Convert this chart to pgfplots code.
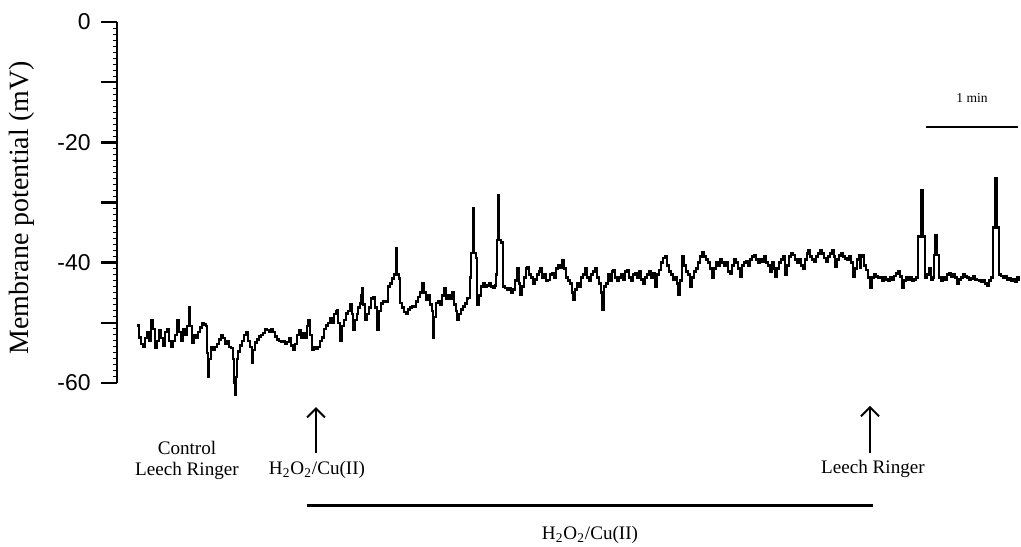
\documentclass[border=0pt]{standalone}
\usepackage{fontspec}
\setmainfont{Liberation Serif}
\newfontfamily\ticksans{Liberation Sans}
\usepackage{pgfplots}
\usepackage{pgfplotstable}
\pgfplotsset{compat=1.18}
\usetikzlibrary{arrows.meta}

% time in trace units (x), membrane potential in mV (y)
\pgfplotstableread{
t v
137 -50.4
139 -52.4
141 -53.5
143 -54.0
145 -52.5
147 -51.5
149 -53.0
151 -49.5
153 -51.0
155 -54.2
157 -53.0
159 -51.2
161 -52.5
163 -53.8
165 -51.5
167 -51.0
169 -53.0
171 -54.0
173 -53.0
175 -52.0
177 -49.5
179 -51.5
181 -53.0
183 -51.0
185 -52.0
187 -50.5
189 -47.5
190 -50.5
192 -53.3
194 -52.0
196 -52.5
198 -51.5
200 -50.8
202 -50.0
204 -50.3
206 -50.5
207 -55.0
208 -59.0
209 -56.0
211 -54.0
213 -54.5
215 -54.0
217 -53.5
219 -52.8
221 -52.0
223 -52.5
225 -53.5
227 -53.0
229 -54.0
231 -54.2
233 -56.0
234 -60.0
235 -62.0
236 -59.0
237 -56.0
238 -54.8
240 -53.8
242 -53.0
244 -52.0
246 -51.5
248 -53.0
250 -54.0
252 -56.7
253 -54.5
255 -53.3
257 -52.8
259 -52.3
261 -52.0
263 -51.7
265 -51.0
267 -51.2
269 -51.5
271 -51.0
273 -51.5
275 -52.3
277 -52.8
279 -53.0
281 -53.2
283 -53.0
285 -53.5
287 -53.2
289 -52.5
291 -53.8
293 -54.5
295 -53.5
297 -52.0
299 -51.2
301 -52.5
303 -51.8
305 -52.5
307 -50.5
308 -49.5
310 -52.0
312 -54.5
314 -54.0
316 -54.3
318 -54.0
320 -53.0
322 -52.4
324 -51.0
326 -50.4
328 -50.0
330 -49.2
332 -50.0
334 -48.5
336 -48.0
337 -47.9
338 -50.0
340 -52.9
342 -50.5
344 -49.5
346 -48.4
348 -48.0
350 -47.0
352 -48.5
353 -51.2
355 -49.5
357 -48.5
358 -47.5
360 -46.8
361 -45.5
362 -44.2
363 -47.0
365 -49.5
367 -48.5
369 -47.5
371 -46.0
373 -45.7
375 -47.5
377 -51.2
379 -48.0
381 -46.8
383 -46.5
385 -46.5
387 -46.5
388 -44.0
390 -43.5
392 -42.6
394 -42.0
396 -37.6
397 -42.0
399 -42.6
400 -46.7
402 -47.5
404 -48.2
406 -48.4
408 -47.8
410 -47.5
412 -47.2
414 -47.3
416 -46.5
418 -45.7
420 -45.0
422 -43.4
424 -45.0
426 -46.2
428 -45.5
430 -47.0
432 -48.0
433 -52.5
434 -49.0
436 -46.7
438 -46.5
440 -47.0
442 -45.5
444 -44.2
446 -46.0
448 -45.5
450 -46.0
452 -45.0
454 -47.0
456 -48.0
457 -49.5
459 -48.5
461 -47.8
463 -47.3
465 -46.8
467 -46.0
468 -45.9
470 -42.5
471 -38.4
473 -30.9
474 -38.4
476 -39.2
477 -47.0
479 -45.5
481 -44.0
483 -43.4
485 -44.0
487 -43.8
489 -43.5
491 -44.0
493 -44.2
495 -43.8
496 -42.0
497 -36.2
498 -28.8
499 -36.2
501 -36.6
503 -44.0
505 -44.2
507 -44.5
509 -44.3
511 -45.0
513 -44.5
515 -43.0
517 -40.9
519 -43.5
520 -45.4
522 -44.0
524 -42.5
526 -41.0
527 -40.7
529 -42.0
531 -42.5
533 -43.5
535 -42.8
537 -42.0
539 -41.5
540 -41.0
542 -42.5
544 -42.0
546 -43.0
548 -42.9
550 -42.0
552 -41.8
554 -42.5
556 -41.0
558 -40.5
560 -40.8
562 -39.6
564 -41.0
566 -42.5
568 -43.0
570 -43.5
572 -45.0
573 -46.2
575 -44.5
577 -43.5
579 -44.0
581 -42.5
583 -42.0
585 -41.0
587 -42.5
589 -43.0
591 -42.0
593 -41.5
595 -40.9
597 -42.5
599 -43.5
601 -45.0
602 -47.9
604 -44.0
606 -43.5
608 -42.0
610 -43.0
612 -41.5
613 -41.2
615 -42.5
617 -43.0
619 -42.5
621 -42.0
623 -42.8
625 -41.5
627 -41.3
629 -42.5
631 -43.0
633 -42.0
635 -41.8
637 -42.5
639 -41.5
641 -42.8
643 -43.5
645 -42.5
647 -42.0
649 -41.5
651 -42.5
653 -41.8
655 -44.0
657 -42.0
659 -41.2
661 -40.0
663 -39.2
665 -39.0
667 -40.5
669 -41.5
671 -42.0
673 -42.8
675 -42.5
677 -43.5
678 -45.4
680 -43.0
682 -39.0
684 -40.5
686 -41.5
688 -42.0
690 -44.0
692 -42.5
694 -41.5
696 -41.0
698 -40.0
700 -39.0
702 -38.2
704 -39.0
706 -39.5
708 -40.0
710 -41.0
712 -42.5
714 -41.0
716 -40.0
718 -40.5
720 -39.5
722 -40.0
724 -40.5
726 -40.0
728 -41.5
730 -41.8
732 -40.5
734 -39.5
736 -40.0
738 -41.0
740 -42.3
742 -40.5
744 -40.0
746 -39.8
748 -40.5
750 -39.5
752 -39.0
754 -38.8
756 -39.5
758 -40.0
760 -39.5
762 -39.8
764 -39.0
766 -40.0
768 -40.5
770 -41.5
772 -40.0
774 -41.0
775 -42.3
777 -41.0
779 -40.0
781 -39.5
783 -39.0
785 -42.0
787 -40.5
789 -39.0
791 -38.5
793 -38.7
795 -39.5
797 -40.0
799 -39.5
801 -40.5
803 -41.0
805 -39.5
807 -38.5
808 -37.9
810 -39.0
812 -39.5
814 -39.8
816 -39.0
818 -38.5
820 -37.9
822 -38.5
824 -39.2
826 -39.8
828 -39.0
830 -38.5
832 -38.0
834 -39.0
835 -40.7
837 -39.5
839 -38.8
841 -38.5
843 -39.0
845 -39.3
847 -39.5
849 -39.0
851 -40.0
853 -42.4
855 -41.0
857 -39.5
859 -38.7
860 -40.9
861 -39.0
862 -38.7
864 -40.5
866 -41.2
868 -42.5
870 -44.2
872 -42.5
874 -42.0
876 -42.3
878 -42.5
880 -42.4
882 -43.0
884 -42.5
886 -42.8
888 -43.0
890 -42.5
892 -42.8
894 -42.2
896 -41.8
898 -41.5
900 -42.3
902 -44.2
904 -43.0
906 -42.5
908 -42.8
910 -42.5
912 -43.0
914 -42.8
916 -42.5
918 -35.7
921 -27.9
923 -35.7
925 -42.5
927 -42.0
929 -41.0
931 -42.8
933 -42.5
934 -38.7
935 -35.4
937 -38.7
939 -42.5
941 -43.0
943 -42.5
945 -42.8
947 -42.0
949 -41.8
951 -42.3
953 -42.0
955 -42.5
957 -43.5
959 -42.8
961 -42.5
963 -42.0
965 -42.3
967 -42.5
969 -42.8
971 -42.6
973 -42.3
975 -42.8
977 -42.9
979 -43.0
981 -43.2
983 -43.0
985 -43.5
987 -43.8
989 -43.0
991 -42.5
993 -34.2
995 -25.9
997 -34.2
999 -42.0
1001 -42.2
1003 -42.5
1005 -42.3
1007 -42.8
1009 -42.6
1011 -43.0
1013 -42.7
1015 -43.2
1017 -42.5
1019 -42.8
1020 -42.8
}\trace

\begin{document}
\begin{tikzpicture}
\path[use as bounding box] (-58.5bp,-82bp) rectangle (452bp,191.5bp);
\begin{axis}[
    at={(0,0)}, anchor=south west,
    scale only axis,
    width=452bp, height=180.5bp,
    xmin=117, xmax=1021,
    ymin=-60, ymax=0,
    enlargelimits=false,
    clip=false,
    axis x line=none,
    axis y line=left,
    y axis line style={-, line width=1.3bp},
    xtick=\empty,
    ytick={-60,-50,...,0},
    yticklabels={-60,,-40,,-20,,0},
    minor y tick num=9,
    tick align=outside,
    major tick length=8bp,
    minor tick length=2bp,
    every major tick/.append style={line width=1.3bp, black},
    every minor tick/.append style={line width=0.5bp, black},
    yticklabel style={font=\fontsize{11.5}{12}\selectfont\ticksans,
        inner sep=0pt, xshift=-5bp},
]
\addplot[const plot, black, line width=1.3bp] table[x=t, y=v] {\trace};

% y label
\node[rotate=90, font=\fontsize{14}{14}\selectfont] at (axis cs:22,-30.9)
    {Membrane potential (mV)};

% scale bar
\draw[line width=1.2bp] (axis cs:926,-17.45) -- (axis cs:1018,-17.45);
\node[font=\fontsize{6.8}{7}\selectfont] at (axis cs:972,-12.6) {1 min};

% arrows and labels
\draw[line width=1bp, -{Straight Barb[length=4.5bp, width=9bp]}]
    (axis cs:316,-71.6) -- (axis cs:316,-64.0);
\draw[line width=1bp, -{Straight Barb[length=4.5bp, width=9bp]}]
    (axis cs:870,-71.6) -- (axis cs:870,-63.8);
\node[font=\fontsize{9.6}{10.6}\selectfont, align=center] at (axis cs:187,-72.9)
    {Control\\Leech Ringer};
\node[font=\fontsize{9.6}{10.6}\selectfont] at (axis cs:317,-74.5)
    {H\textsubscript{2}O\textsubscript{2}/Cu(II)};
\node[font=\fontsize{9.6}{10.6}\selectfont] at (axis cs:873,-74.2) {Leech Ringer};

% exposure bar
\draw[line width=1.5bp] (axis cs:307,-80.3) -- (axis cs:873,-80.3);
\node[font=\fontsize{9.6}{10.6}\selectfont] at (axis cs:590,-85.3)
    {H\textsubscript{2}O\textsubscript{2}/Cu(II)};
\end{axis}
\end{tikzpicture}
\end{document}
